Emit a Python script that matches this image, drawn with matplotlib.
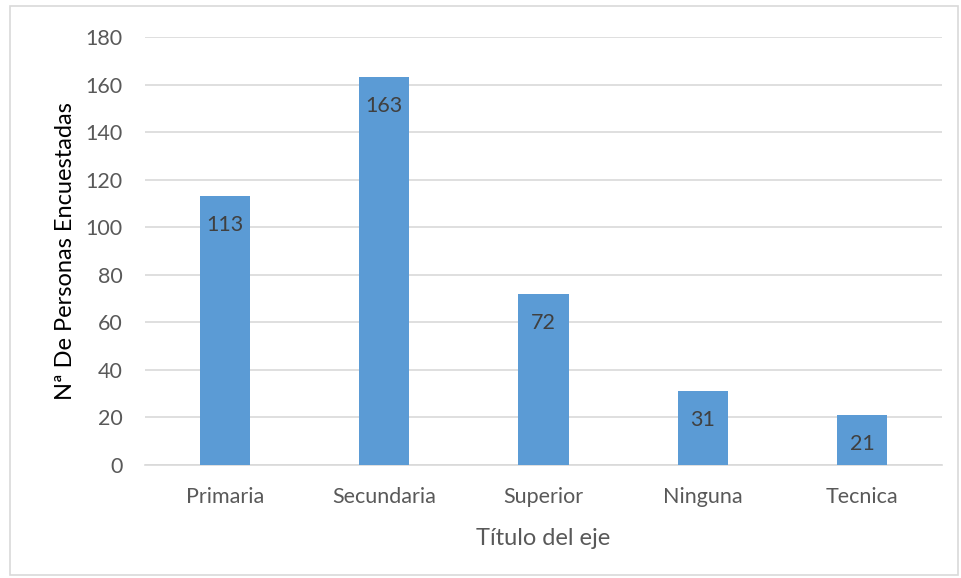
import matplotlib
matplotlib.use("Agg")
import matplotlib.pyplot as plt
from matplotlib.patches import Rectangle

categories = ["Primaria", "Secundaria", "Superior", "Ninguna", "Tecnica"]
values = [113, 163, 72, 31, 21]
yticks = [0, 20, 40, 60, 80, 100, 120, 140, 160, 180]

plt.rcParams['font.family'] = ['Lato', 'DejaVu Sans']

fig = plt.figure(figsize=(9.61, 5.78), dpi=100)
fig.patches.append(Rectangle((10/961, 3/578), 948/961, 569/578, transform=fig.transFigure,
                             fill=False, edgecolor='#d9d9d9', linewidth=1.2))
ax = fig.add_axes([145/961, 1-465/578, (942-145)/961, (465-37)/578])

x = list(range(len(categories)))
ax.bar(x, values, width=0.314, color='#5b9bd5', zorder=3)
for xi, v in zip(x, values):
    ax.annotate(str(v), xy=(xi, v), xytext=(0, -29), textcoords='offset pixels',
                ha='center', va='center', fontsize=15.5, color='#404040', zorder=4)

ax.set_xlim(-0.5, len(categories) - 0.5)
ax.set_ylim(0, 180)
ax.set_yticks(yticks)
ax.set_xticks(x)
ax.set_xticklabels(categories)
ax.grid(axis='y', color='#d9d9d9', linewidth=1.2, zorder=0)
for s in ['top', 'right', 'left']:
    ax.spines[s].set_visible(False)
ax.spines['bottom'].set_color('#d9d9d9')
ax.spines['bottom'].set_linewidth(1.2)
ax.tick_params(axis='both', length=0, labelsize=15.5, labelcolor='#595959')
ax.tick_params(axis='y', pad=16)
ax.tick_params(axis='x', pad=16)

ax.set_ylabel("Nª De Personas Encuestadas", fontsize=17, color='#000000', labelpad=7)
ax.set_xlabel("Título del eje", fontsize=17, color='#595959', labelpad=15)

fig.savefig("out.png", dpi=100)
